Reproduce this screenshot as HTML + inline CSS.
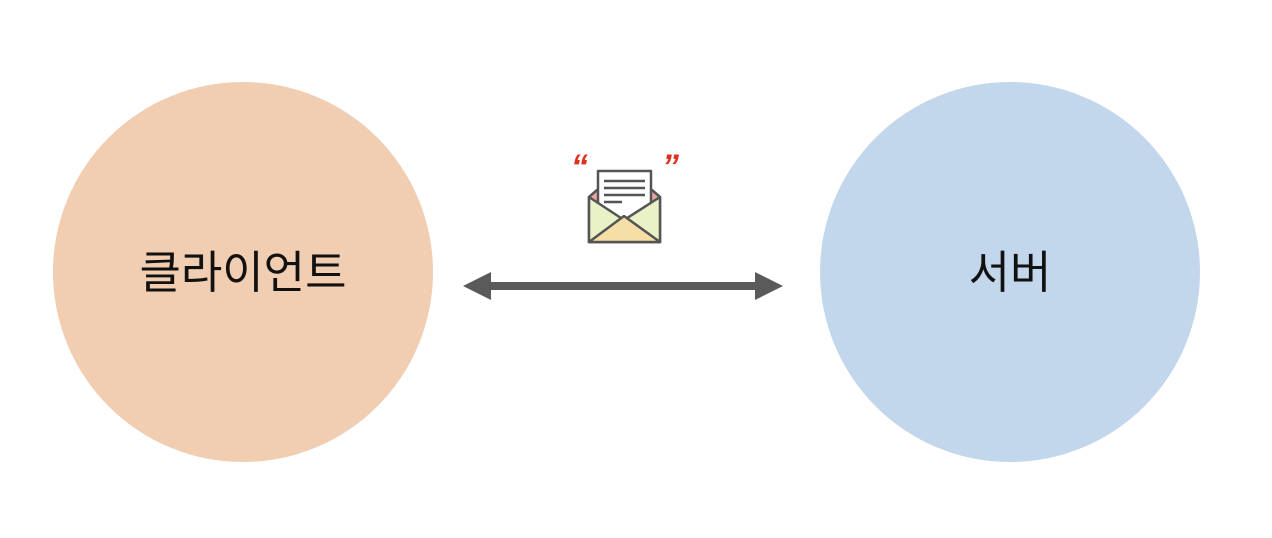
<!DOCTYPE html>
<html><head><meta charset="utf-8"><style>
html,body{margin:0;padding:0;background:#fff;width:1272px;height:538px;overflow:hidden}
</style></head><body>
<svg width="1272" height="538" viewBox="0 0 1272 538" xmlns="http://www.w3.org/2000/svg">
<circle cx="243" cy="272" r="190" fill="#f1cdb1"/>
<circle cx="1010" cy="272" r="190" fill="#c2d7ec"/>
<text x="243" y="288" text-anchor="middle" font-family="'Liberation Sans','Noto Sans CJK KR',sans-serif" font-size="45" fill="#111">클라이언트</text>
<text x="1010" y="288" text-anchor="middle" font-family="'Liberation Sans','Noto Sans CJK KR',sans-serif" font-size="45" fill="#111">서버</text>
<rect x="488" y="282" width="270" height="8" fill="#5a5a5a"/>
<polygon points="463,286 491,272 491,300" fill="#5a5a5a"/>
<polygon points="783,286 755,272 755,300" fill="#5a5a5a"/>
<g stroke="#555" stroke-width="2.5" stroke-linejoin="round">
<polygon points="589,197 597,190 652,190 660,197 660,242 589,242" fill="#e7a8a0"/>
<rect x="598" y="171" width="53" height="52" fill="#fff"/>
<polygon points="589,197 624,220 660,197 660,242 589,242" fill="#e8f2c6"/>
<polygon points="589,242 624,216 660,242" fill="#f6dfa6"/>
</g>
<g stroke="#555" stroke-width="2.5">
<line x1="604" y1="181" x2="645" y2="181"/>
<line x1="604" y1="188" x2="645" y2="188"/>
<line x1="604" y1="195" x2="645" y2="195"/>
<line x1="604" y1="202" x2="622" y2="202"/>
</g>
<text x="571" y="178" font-family="'Liberation Sans',sans-serif" font-style="italic" font-weight="bold" font-size="34" fill="#e0301e">“</text>
<text x="662" y="178" font-family="'Liberation Sans',sans-serif" font-style="italic" font-weight="bold" font-size="34" fill="#e0301e">”</text>
</svg>
</body></html>
